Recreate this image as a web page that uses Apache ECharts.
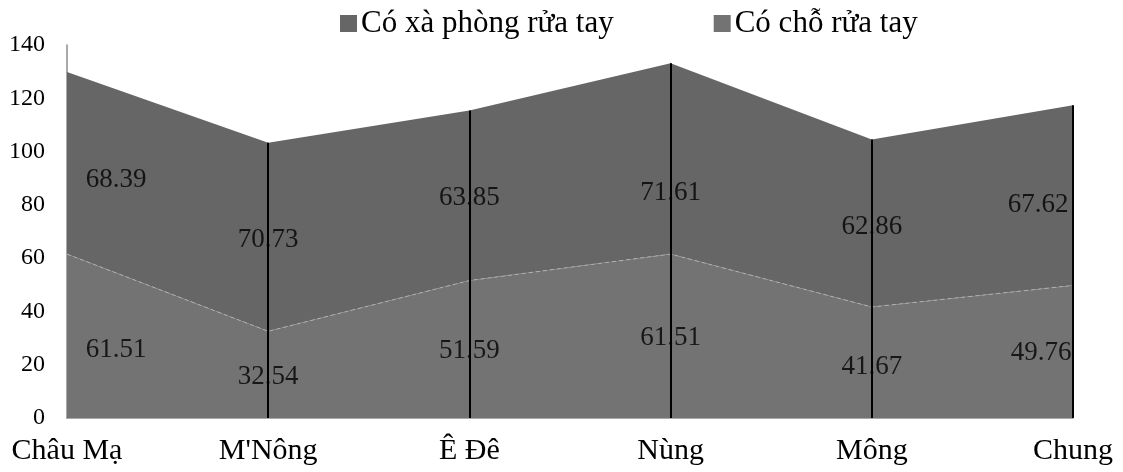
<!DOCTYPE html>
<html>
<head>
<meta charset="utf-8">
<script src="https://cdn.jsdelivr.net/npm/echarts@6/dist/echarts.min.js"></script>
<style>html,body{margin:0;padding:0;background:#fff}#c{width:1123px;height:472px}</style>
</head>
<body>
<div id="c"></div>
<script>
const categories = ['Châu Mạ', "M'Nông", 'Ê Đê', 'Nùng', 'Mông', 'Chung'];
const handwashPlace = [61.51, 32.54, 51.59, 61.51, 41.67, 49.76];
const soapHandwash = [68.39, 70.73, 63.85, 71.61, 62.86, 67.62];
const seriesNames = ['Có xà phòng rửa tay', 'Có chỗ rửa tay'];
const yMin = 0, yMax = 140, yStep = 20;

// label nudges (style only), per category
const botOffsets = [[49, 14], [0, 2], [0, 2], [0, 2], [0, 4], [-32, 1]];
const topOffsets = [[49, 17], [0, 3], [0, 2], [0, 34], [0, 4], [-35, 10]];

const FONT = '"Liberation Serif", "Times New Roman", serif';
const totals = handwashPlace.map((v, i) => v + soapHandwash[i]);

const chart = echarts.init(document.getElementById('c'), null, {renderer: 'canvas'});
chart.setOption({
  animation: false,
  backgroundColor: '#fff',
  grid: {left: 67, right: 50, top: 45, bottom: 54, containLabel: false},
  legend: {
    data: [seriesNames[0], seriesNames[1]],
    left: 335, top: 3,
    icon: 'rect', itemWidth: 17, itemHeight: 17, itemGap: 100,
    textStyle: {fontFamily: FONT, fontSize: 31, color: '#000', padding: [0, 0, 0, -1]}
  },
  xAxis: {
    type: 'category', data: categories, boundaryGap: false,
    axisLine: {show: true, lineStyle: {color: '#8c8c8c', width: 1.5}},
    axisTick: {show: false},
    axisLabel: {fontFamily: FONT, fontSize: 30, color: '#000', margin: 18, interval: 0}
  },
  yAxis: {
    type: 'value', min: yMin, max: yMax, interval: yStep,
    axisLine: {show: true, lineStyle: {color: '#8c8c8c', width: 1.5}},
    axisTick: {show: false},
    splitLine: {show: false},
    axisLabel: {fontFamily: FONT, fontSize: 24, color: '#000', margin: 22}
  },
  series: [
    {
      name: seriesNames[1], type: 'line', stack: 'total', data: handwashPlace,
      symbol: 'none', color: '#737373',
      lineStyle: {color: '#b0b0b0', width: 1, type: [4, 3]},
      areaStyle: {color: '#737373', opacity: 1}, z: 2
    },
    {
      name: seriesNames[0], type: 'line', stack: 'total', data: soapHandwash,
      symbol: 'none', color: '#666666',
      lineStyle: {width: 0},
      areaStyle: {color: '#666666', opacity: 1}, z: 1,
      markLine: {
        silent: true, symbol: 'none', label: {show: false},
        lineStyle: {color: '#000', width: 2, type: 'solid'},
        data: categories.slice(1).map((c, k) => [
          {coord: [c, 0]}, {coord: [c, totals[k + 1]]}
        ])
      }
    },
    {
      type: 'scatter', symbolSize: 0, silent: true, z: 5,
      data: handwashPlace.map((v, i) => ({
        value: [categories[i], v / 2],
        label: {offset: botOffsets[i]}
      })),
      label: {show: true, position: 'inside', fontFamily: FONT, fontSize: 27, color: '#000',
        formatter: p => handwashPlace[p.dataIndex].toFixed(2)}
    },
    {
      type: 'scatter', symbolSize: 0, silent: true, z: 5,
      data: soapHandwash.map((v, i) => ({
        value: [categories[i], handwashPlace[i] + v / 2],
        label: {offset: topOffsets[i]}
      })),
      label: {show: true, position: 'inside', fontFamily: FONT, fontSize: 27, color: '#000',
        formatter: p => soapHandwash[p.dataIndex].toFixed(2)}
    }
  ]
});
</script>
</body>
</html>
